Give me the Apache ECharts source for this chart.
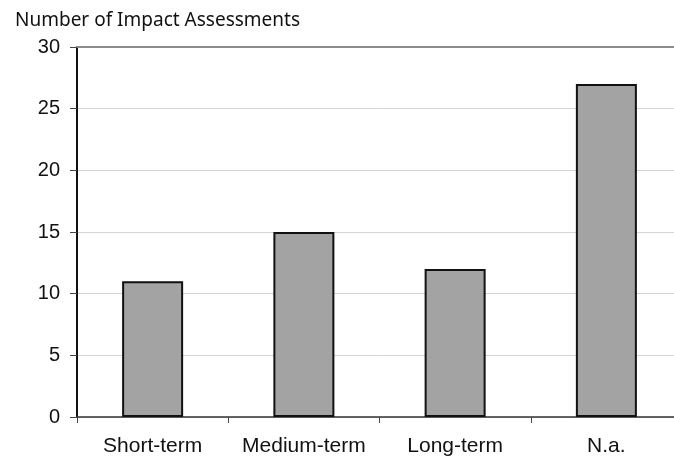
<!DOCTYPE html>
<html>
<head>
<meta charset="utf-8">
<script src="https://cdn.jsdelivr.net/npm/echarts@6/dist/echarts.min.js"></script>
<style>
  html, body { margin: 0; padding: 0; background: #fff; overflow: hidden; }
  #chart { width: 690px; height: 462px; }
</style>
</head>
<body>
<div id="chart"></div>
<script>
// Impact assessments by time horizon
const categories = ['Short-term', 'Medium-term', 'Long-term', 'N.a.'];
const assessments = [11, 15, 12, 27];
const yTicks = [0, 5, 10, 15, 20, 25, 30];
const yTitle = 'Number of Impact Assessments';

const chart = echarts.init(document.getElementById('chart'), null, { renderer: 'canvas' });

chart.setOption({
  animation: false,
  backgroundColor: '#ffffff',
  title: {
    text: yTitle,
    left: 10,
    top: 6,
    textStyle: {
      fontFamily: 'Noto Sans',
      fontWeight: 'normal',
      fontSize: 19,
      color: '#111'
    }
  },
  grid: { left: 77, top: 47, width: 605, height: 370 },
  xAxis: [
    {
      type: 'category',
      data: categories,
      position: 'bottom',
      axisLine: { lineStyle: { color: '#333', width: 1.5 } },
      axisTick: { show: true, interval: 0, length: 6, lineStyle: { color: '#444' } },
      axisLabel: {
        interval: 0,
        margin: 19,
        fontFamily: 'Liberation Sans',
        fontSize: 21,
        color: '#111'
      }
    },
    {
      // plain rule along the top of the plot
      type: 'category',
      data: categories,
      position: 'top',
      axisLine: { lineStyle: { color: '#8c8c8c', width: 2 } },
      axisTick: { show: false },
      axisLabel: { show: false }
    }
  ],
  yAxis: {
    type: 'value',
    min: yTicks[0],
    max: yTicks[yTicks.length - 1],
    interval: yTicks[1] - yTicks[0],
    axisLine: { show: true, lineStyle: { color: '#111', width: 2 } },
    axisTick: { show: true, length: 7, lineStyle: { color: '#444' } },
    axisLabel: {
      margin: 17,
      fontFamily: 'Liberation Sans',
      fontSize: 20,
      color: '#111'
    },
    splitLine: { lineStyle: { color: '#d4d4d4', width: 1 } }
  },
  series: [
    {
      type: 'bar',
      data: assessments,
      barWidth: 61,
      itemStyle: {
        color: '#a3a3a3',
        borderColor: '#111',
        borderWidth: 2
      }
    }
  ]
});
</script>
</body>
</html>
